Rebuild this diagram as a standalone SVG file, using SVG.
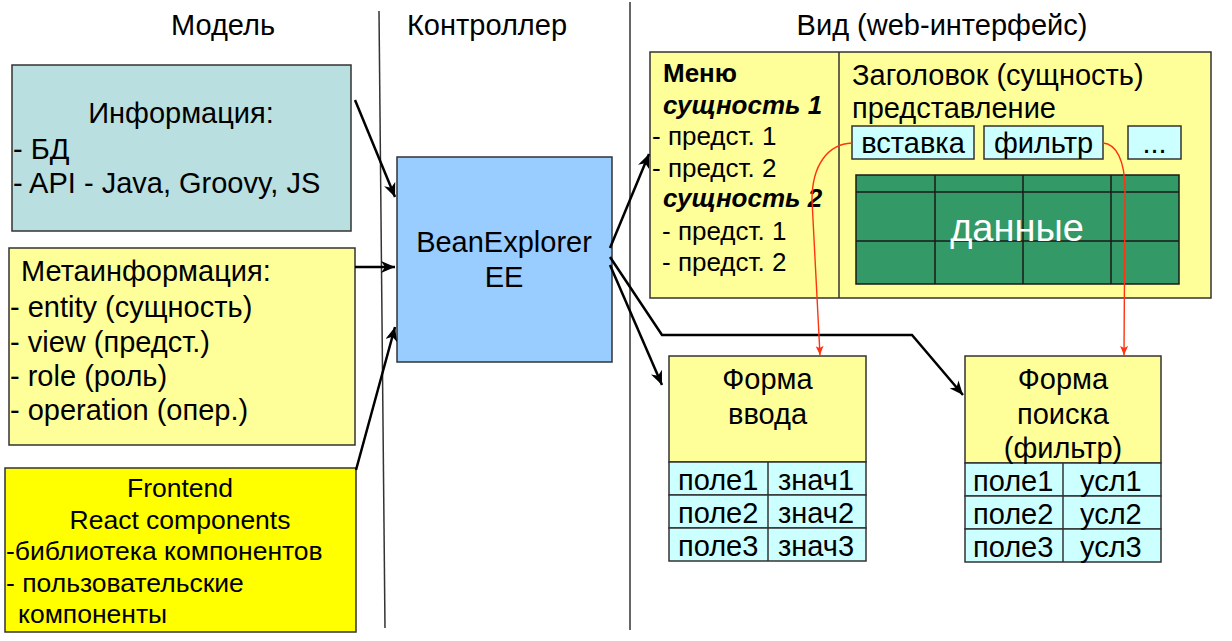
<svg xmlns="http://www.w3.org/2000/svg" width="1232" height="641" viewBox="0 0 1232 641">
<style>
text{font-family:"Liberation Sans",Arial,sans-serif;fill:#000}
.t28{font-size:29px}
.t26{font-size:26.5px}
.t25{font-size:26px}
.c{text-anchor:middle}
.bx{stroke:#333;stroke-width:1.5}
.div{stroke:#333;stroke-width:1.5;fill:none}
.conn{stroke:#000;stroke-width:2.5;fill:none;marker-end:url(#ah)}
.red{stroke:#ff3311;stroke-width:1.4;fill:none;marker-end:url(#rh)}
.grid{stroke:#1a1a1a;stroke-width:1.5}
</style>
<defs>
<marker id="ah" markerUnits="userSpaceOnUse" markerWidth="16" markerHeight="12" refX="14" refY="6" orient="auto">
<path d="M0,0 L14,6 L0,12 L4,6 Z" fill="#000"/>
</marker>
<marker id="rh" markerUnits="userSpaceOnUse" markerWidth="10" markerHeight="8" refX="9" refY="4" orient="auto">
<path d="M0,0 L9,4 L0,8 L2,4 Z" fill="#ff3311"/>
</marker>
</defs>
<rect width="1232" height="641" fill="#fff"/>

<g id="headers">
<text class="t28 c" x="223" y="35">Модель</text>
<text class="t28 c" x="487" y="35">Контроллер</text>
<text class="t28 c" x="942" y="35">Вид (web-интерфейс)</text>
</g>

<g id="dividers">
<line class="div" x1="379" y1="11" x2="385" y2="628"/>
<line class="div" x1="630" y1="2" x2="630" y2="630"/>
</g>

<g id="info">
<rect class="bx" x="12" y="65" width="339" height="166" fill="#b9dfe1"/>
<text class="t28 c" x="181" y="123">Информация:</text>
<text class="t28" x="13" y="159">- БД</text>
<text class="t28" x="13" y="193">- API - Java, Groovy, JS</text>
</g>

<g id="meta">
<rect class="bx" x="9" y="248" width="346" height="197" fill="#ffff99"/>
<text class="t28" x="21" y="281">Метаинформация:</text>
<text class="t28" x="10" y="317">- entity (сущность)</text>
<text class="t28" x="10" y="352">- view (предст.)</text>
<text class="t28" x="10" y="386">- role (роль)</text>
<text class="t28" x="10" y="420">- operation (опер.)</text>
</g>

<g id="frontend">
<rect class="bx" x="5" y="468" width="351" height="164" fill="#ffff00"/>
<text class="t26 c" x="180" y="497">Frontend</text>
<text class="t26 c" x="180" y="529">React components</text>
<text class="t26" x="6" y="560">-библиотека компонентов</text>
<text class="t26" x="6" y="592">- пользовательские</text>
<text class="t26" x="18" y="623">компоненты</text>
</g>

<g id="beanexplorer">
<rect class="bx" x="397" y="157" width="215" height="205" fill="#99ccff"/>
<text class="t28 c" x="504" y="252">BeanExplorer</text>
<text class="t28 c" x="504" y="287">EE</text>
</g>

<g id="view">
<rect class="bx" x="650" y="52" width="561" height="246" fill="#ffff99"/>
<line class="bx" x1="839" y1="52" x2="839" y2="298"/>
<g id="menu">
<text class="t25" x="663" y="82" font-weight="bold">Меню</text>
<text class="t25" x="663" y="114" font-weight="bold" font-style="italic">сущность 1</text>
<text class="t25" x="652" y="145">- предст. 1</text>
<text class="t25" x="652" y="177">- предст. 2</text>
<text class="t25" x="663" y="207" font-weight="bold" font-style="italic">сущность 2</text>
<text class="t25" x="662" y="240">- предст. 1</text>
<text class="t25" x="662" y="271">- предст. 2</text>
</g>
<text class="t28" x="852" y="85">Заголовок (сущность)</text>
<text class="t28" x="852" y="118">представление</text>
<g id="btn-insert">
<rect class="bx" x="852" y="126" width="122" height="33" fill="#ccffff"/>
<text class="t28 c" x="913" y="153">вставка</text>
</g>
<g id="btn-filter">
<rect class="bx" x="984" y="126" width="119" height="33" fill="#ccffff"/>
<text class="t28 c" x="1043.5" y="153">фильтр</text>
</g>
<g id="btn-more">
<rect class="bx" x="1128" y="126" width="53" height="33" fill="#ccffff"/>
<text class="t28 c" x="1154.5" y="153">...</text>
</g>
<g id="data-table">
<rect class="grid" x="856" y="175" width="323" height="109" fill="#339966"/>
<line class="grid" x1="935" y1="175" x2="935" y2="284"/>
<line class="grid" x1="1023" y1="175" x2="1023" y2="284"/>
<line class="grid" x1="1111" y1="175" x2="1111" y2="284"/>
<line class="grid" x1="856" y1="192" x2="1179" y2="192"/>
<line class="grid" x1="856" y1="241" x2="1179" y2="241"/>
<text x="1017" y="241" font-size="38" style="fill:#fff" text-anchor="middle">данные</text>
</g>
</g>

<g id="form-input">
<rect class="bx" x="669" y="356" width="197" height="106" fill="#ffff99"/>
<rect class="bx" x="669" y="462" width="197" height="33" fill="#ccffff"/>
<rect class="bx" x="669" y="495" width="197" height="33" fill="#ccffff"/>
<rect class="bx" x="669" y="528" width="197" height="33" fill="#ccffff"/>
<line class="bx" x1="768" y1="462" x2="768" y2="561"/>
<text class="t28 c" x="767.5" y="389">Форма</text>
<text class="t28 c" x="767.5" y="424">ввода</text>
<text class="t28" x="678" y="490">поле1</text>
<text class="t28" x="678" y="523">поле2</text>
<text class="t28" x="678" y="556">поле3</text>
<text class="t28" x="778" y="490">знач1</text>
<text class="t28" x="778" y="523">знач2</text>
<text class="t28" x="778" y="556">знач3</text>
</g>

<g id="form-search">
<rect class="bx" x="965" y="356" width="196" height="107" fill="#ffff99"/>
<rect class="bx" x="965" y="463" width="196" height="33" fill="#ccffff"/>
<rect class="bx" x="965" y="496" width="196" height="33" fill="#ccffff"/>
<rect class="bx" x="965" y="529" width="196" height="33" fill="#ccffff"/>
<line class="bx" x1="1063" y1="463" x2="1063" y2="562"/>
<text class="t28 c" x="1063" y="389">Форма</text>
<text class="t28 c" x="1063" y="424">поиска</text>
<text class="t28 c" x="1063" y="458">(фильтр)</text>
<text class="t28" x="973" y="491">поле1</text>
<text class="t28" x="973" y="524">поле2</text>
<text class="t28" x="973" y="557">поле3</text>
<text class="t28" x="1080" y="491">усл1</text>
<text class="t28" x="1080" y="524">усл2</text>
<text class="t28" x="1080" y="557">усл3</text>
</g>

<g id="connectors">
<path class="conn" d="M355,100 L395,197"/>
<path class="conn" d="M355,267 L395,267"/>
<path class="conn" d="M356,470 L395,327"/>
<path class="conn" d="M610,248 L649,154"/>
<path class="conn" d="M610,265 L662,385"/>
<path class="conn" d="M610,257 L662,335 L912,335 L963,395"/>
<path class="red" d="M852,143 C828,144 812,165 812,200 L820,355"/>
<path class="red" d="M1103,143 C1116,144 1125,160 1125,190 L1124,355"/>
</g>
</svg>
